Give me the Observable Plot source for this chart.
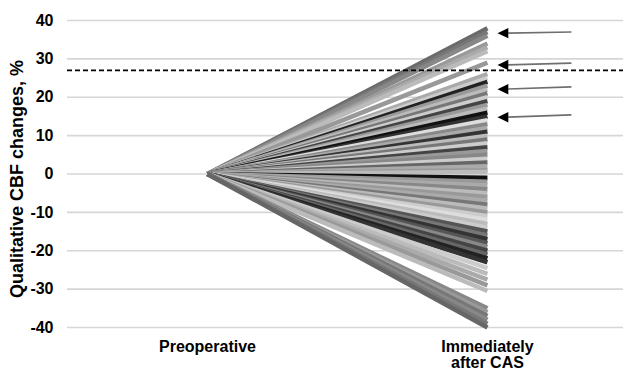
<!DOCTYPE html>
<html>
<head>
<meta charset="utf-8">
<script src="https://cdn.jsdelivr.net/npm/d3@7"></script>
<script src="https://cdn.jsdelivr.net/npm/@observablehq/plot@0.6"></script>
<style>
  html, body { margin: 0; padding: 0; background: #fff; }
  #chart svg { display: block; }
</style>
</head>
<body>
<div id="chart"></div>
<script>
// ---- data ----
const timepoints = ["Preoperative", "Immediately\nafter CAS"];
const yTicks = [-40, -30, -20, -10, 0, 10, 20, 30, 40];
const preoperative = 0;
const afterCAS = [
  38, 37, 36, 34, 33, 32, 29, 26, 25, 24, 23, 22, 21, 20, 19, 18, 17, 16, 15,
  14, 13, 12, 11, 10, 9, 8, 7, 6, 5, 4, 3, 2, 1, 0.5,
  -1, -2, -3, -4, -5, -6, -7, -8, -9, -10, -11, -12, -13, -14,
  -15, -16, -17, -18, -19, -20, -21, -22, -23,
  -24.5, -26, -27.5, -29, -30.5,
  -35, -36, -37, -38, -39, -40
];
const shades = [
  "#6a6a6a", "#777777", "#888888", "#999999", "#aaaaaa", "#bbbbbb", "#999999", "#aaaaaa", "#cccccc",
  "#222222", "#999999", "#bbbbbb", "#777777", "#cccccc", "#444444", "#999999", "#bbbbbb", "#111111",
  "#333333", "#dddddd", "#888888", "#aaaaaa", "#333333", "#bbbbbb", "#777777", "#cccccc", "#444444",
  "#999999", "#888888", "#cccccc", "#666666", "#aaaaaa", "#999999", "#bbbbbb",
  "#111111", "#999999", "#aaaaaa", "#888888", "#bbbbbb", "#999999", "#aaaaaa", "#777777", "#bbbbbb",
  "#999999", "#cccccc", "#dddddd", "#bbbbbb", "#cccccc",
  "#555555", "#777777", "#333333", "#555555", "#888888", "#444444", "#666666", "#222222", "#333333",
  "#cccccc", "#bbbbbb", "#aaaaaa", "#999999", "#bbbbbb",
  "#888888", "#999999", "#777777", "#888888", "#777777", "#666666"
];
const threshold = 27;
const arrowHeadValues = [36.7, 28.4, 22.1, 14.8];
const arrowTailValues = [37.0, 28.9, 22.7, 15.4];
const yLabel = "Qualitative CBF changes, %";

// ---- build ----
const patients = afterCAS.map((v, i) => ({pre: preoperative, post: v, shade: shades[i]}));
const arrows = arrowHeadValues.map((h, i) => ({head: h, tail: arrowTailValues[i]}));

const leftTriangle = {
  draw(ctx, size) {
    const r = Math.sqrt(size / Math.PI);
    ctx.moveTo(0, 0);
    ctx.lineTo(2.7 * r, -1.3 * r);
    ctx.lineTo(2.7 * r, 1.3 * r);
    ctx.closePath();
  }
};

const font = "'Liberation Sans', Arial, Helvetica, sans-serif";

const chart = Plot.plot({
  width: 623,
  height: 370,
  marginLeft: 67,
  marginRight: 0,
  marginTop: 20,
  marginBottom: 43,
  style: {fontFamily: font, background: "#fff", color: "#000"},
  x: {domain: [-0.5, 1.486], axis: null},
  y: {domain: [-40, 40], axis: null},
  color: {type: "identity"},
  marks: [
    Plot.ruleY(yTicks, {stroke: "#d6d6d6", strokeWidth: 1.6}),
    Plot.link(patients, {
      x1: () => 0, y1: "pre", x2: () => 1, y2: "post",
      stroke: "shade", strokeWidth: 4.5
    }),
    Plot.ruleY([threshold], {stroke: "#000", strokeWidth: 1.6, strokeDasharray: "5,3"}),
    Plot.link(arrows, {
      x1: () => 1.3, y1: "tail", x2: () => 1.06, y2: "head",
      stroke: "#6f6f6f", strokeWidth: 1.6
    }),
    Plot.dot(arrows, {
      x: () => 1.036, y: "head", r: 4, symbol: leftTriangle, fill: "#000", stroke: "none"
    }),
    Plot.axisY(yTicks, {
      tickSize: 0, tickPadding: 14, fontSize: 16, fontWeight: "bold", label: null,
      tickFormat: (d) => `${d}`
    }),
    Plot.axisX([0, 1], {
      tickSize: 0, tickPadding: 13, fontSize: 16, fontWeight: "bold", label: null,
      tickFormat: (d) => timepoints[d], lineHeight: 1
    }),
    Plot.text([yLabel], {
      frameAnchor: "left", textAnchor: "middle", rotate: -90, dx: -50, dy: 5,
      fontSize: 18, fontWeight: "bold", fill: "#000"
    })
  ]
});

document.getElementById("chart").appendChild(chart);
</script>
</body>
</html>
